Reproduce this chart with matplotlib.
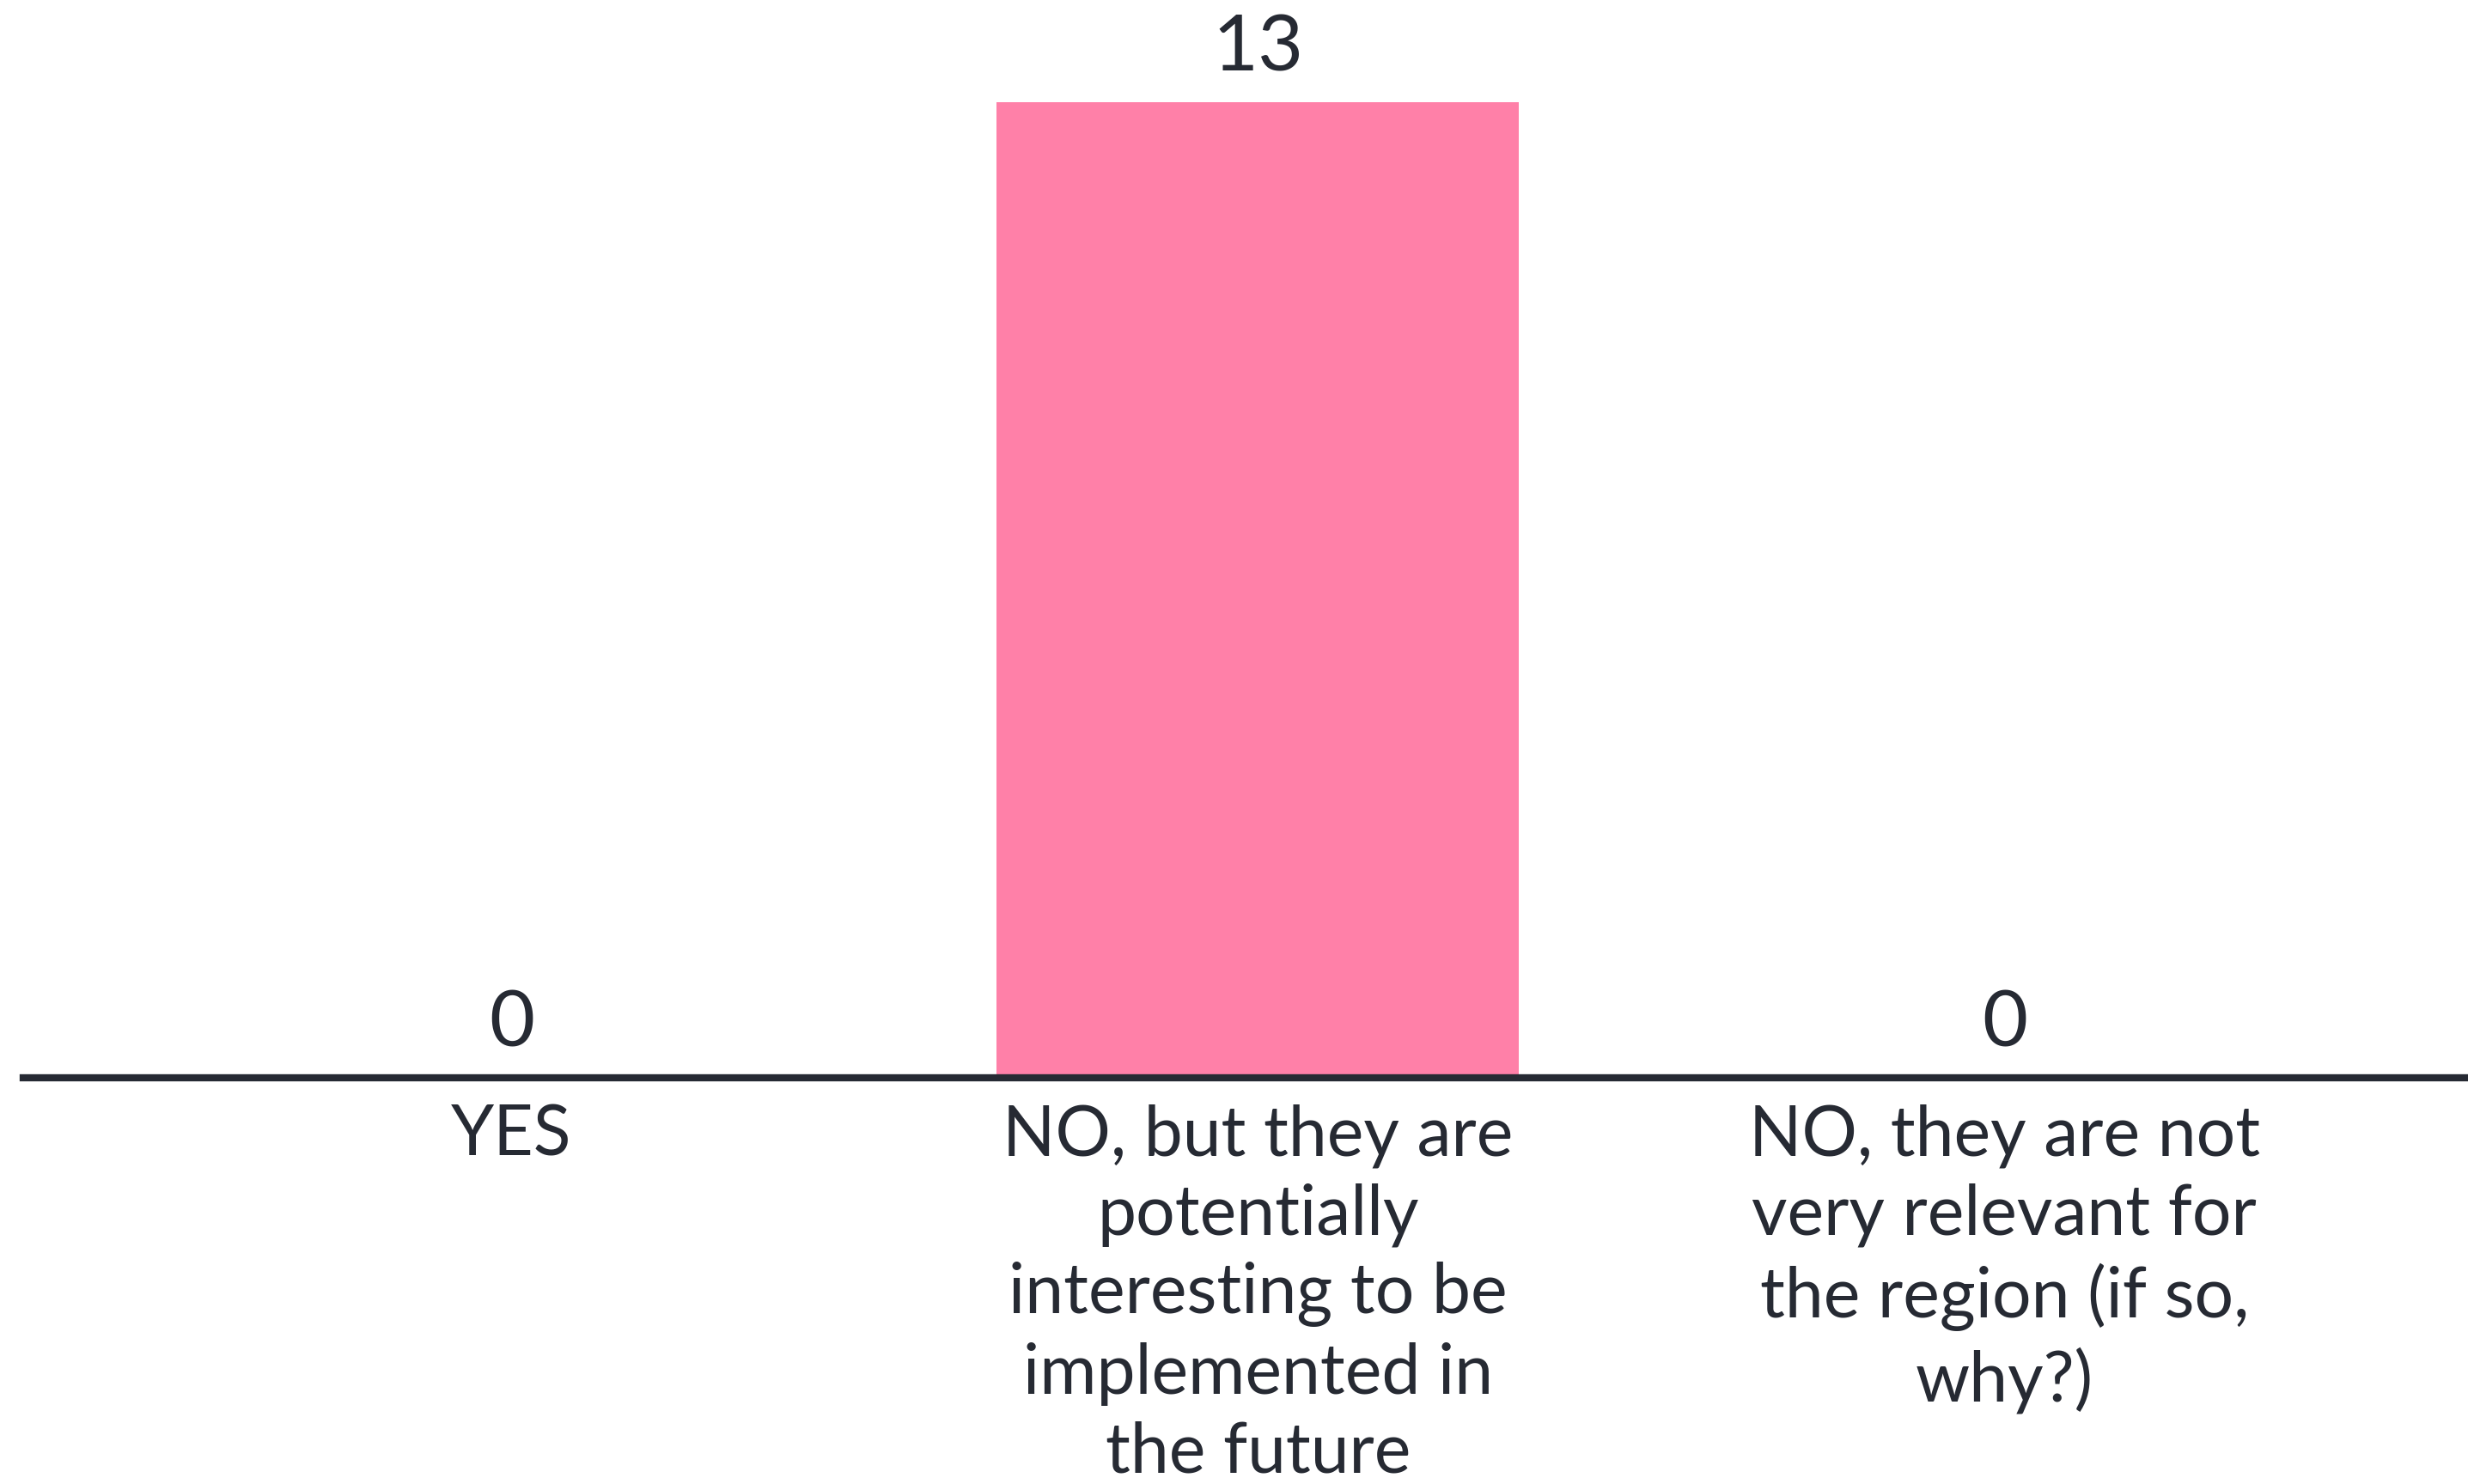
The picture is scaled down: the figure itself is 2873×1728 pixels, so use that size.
import matplotlib
matplotlib.use("Agg")
import matplotlib.pyplot as plt

categories = [
    "YES",
    "NO, but they are\npotentially\ninteresting to be\nimplemented in\nthe future",
    "NO, they are not\nvery relevant for\nthe region (if so,\nwhy?)",
]
values = [0, 13, 0]

BAR_COLOR = "#FF80A8"
TEXT_COLOR = "#262A33"

plt.rcParams['font.family'] = ['Lato', 'DejaVu Sans']

W, H = 2873, 1728
fig = plt.figure(figsize=(W / 100, H / 100), dpi=100)
fig.patch.set_facecolor("white")

# axes from x=27px to right edge, y baseline at 1255px from top
left = 27 / W
bottom = (H - 1255) / H
ax = fig.add_axes([left, bottom, 1 - left, 1255 / H])

x = list(range(len(categories)))
ax.bar(x, values, width=0.70, color=BAR_COLOR, zorder=2)

ax.set_xlim(-0.654, 2.621)
ax.set_ylim(0, 13 * 1255 / 1136)

for xi, v in zip(x, values):
    ax.annotate(str(v), (xi, v), xytext=(0, 15), textcoords="offset points",
                ha="center", va="bottom", fontsize=66, color=TEXT_COLOR)

ax.set_xticks(x)
ax.set_xticklabels(categories, fontsize=58, color=TEXT_COLOR,
                   linespacing=1.29, multialignment="center")
ax.tick_params(axis="x", length=0, pad=22)
ax.set_yticks([])

for s in ["top", "right", "left"]:
    ax.spines[s].set_visible(False)
ax.spines["bottom"].set_color(TEXT_COLOR)
ax.spines["bottom"].set_linewidth(6)
ax.spines["bottom"].set_zorder(3)
ax.set_facecolor("white")

fig.savefig("out.png", dpi=100, facecolor="white")
